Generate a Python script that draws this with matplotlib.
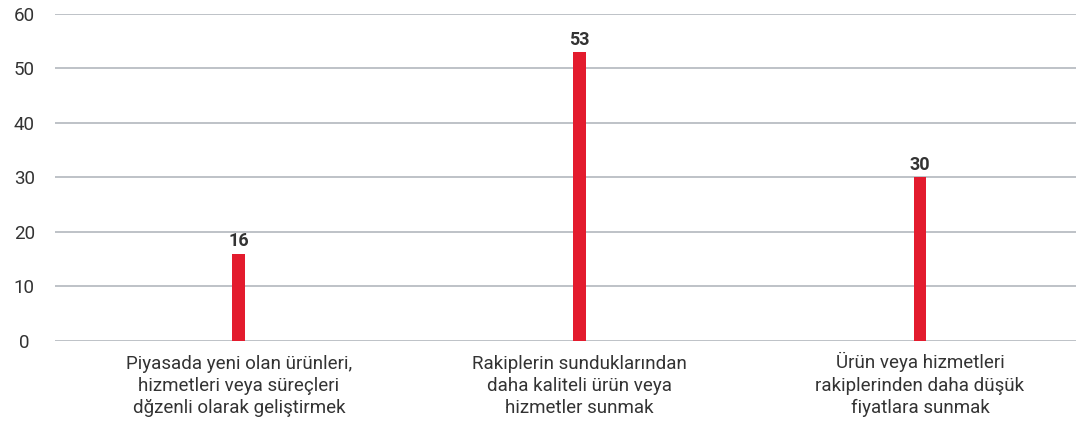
import numpy as np
import matplotlib.pyplot as plt
import matplotlib.transforms as mtransforms

# ---------------- data ----------------
categories = [
    "Piyasada yeni olan ürünleri,\nhizmetleri veya süreçleri\ndğzenli olarak geliştirmek",
    "Rakiplerin sunduklarından\ndaha kaliteli ürün veya\nhizmetler sunmak",
    "Ürün veya hizmetleri\nrakiplerinden daha düşük\nfiyatlara sunmak",
]
values = [16, 53, 30]
y_ticks = [0, 10, 20, 30, 40, 50, 60]

RED = "#E31B2D"
GRID = "#B3B7BD"
TEXT = "#333333"

plt.rcParams['font.family'] = ['Roboto', 'DejaVu Sans']

fig = plt.figure(figsize=(10.76, 4.23), dpi=100)
ax = fig.add_axes([0.0511, 0.194, 0.9489, 0.773])

x = np.arange(len(categories))
ax.bar(x, values, width=0.038, color=RED, zorder=3)

# value labels on top of bars
for xi, v in zip(x, values):
    ax.text(xi, v + 0.6, str(v), ha='center', va='bottom',
            fontsize=13, fontweight='bold', color=TEXT)

ax.set_xlim(-0.540, 2.458)
ax.set_ylim(0, 60)
ax.set_yticks(y_ticks)
ax.yaxis.grid(True, color=GRID, linewidth=1.2)
ax.set_axisbelow(True)

for s in ax.spines.values():
    s.set_visible(False)

ax.tick_params(axis='y', length=0, pad=22, labelsize=13.5, labelcolor=TEXT)
for lbl in ax.get_yticklabels():
    lbl.set_horizontalalignment('center')

# category labels, baselines aligned (last line)
ax.set_xticks(x)
ax.set_xticklabels([])
ax.tick_params(axis='x', length=0)
trans = mtransforms.blended_transform_factory(ax.transData, fig.transFigure)
for xi, cat in zip(x, categories):
    ax.text(xi, 1 - 413 / 423, cat, transform=trans, ha='center',
            va='baseline', multialignment='center', fontsize=13.5,
            color=TEXT, linespacing=1.3)

fig.savefig("out.png", dpi=100)
